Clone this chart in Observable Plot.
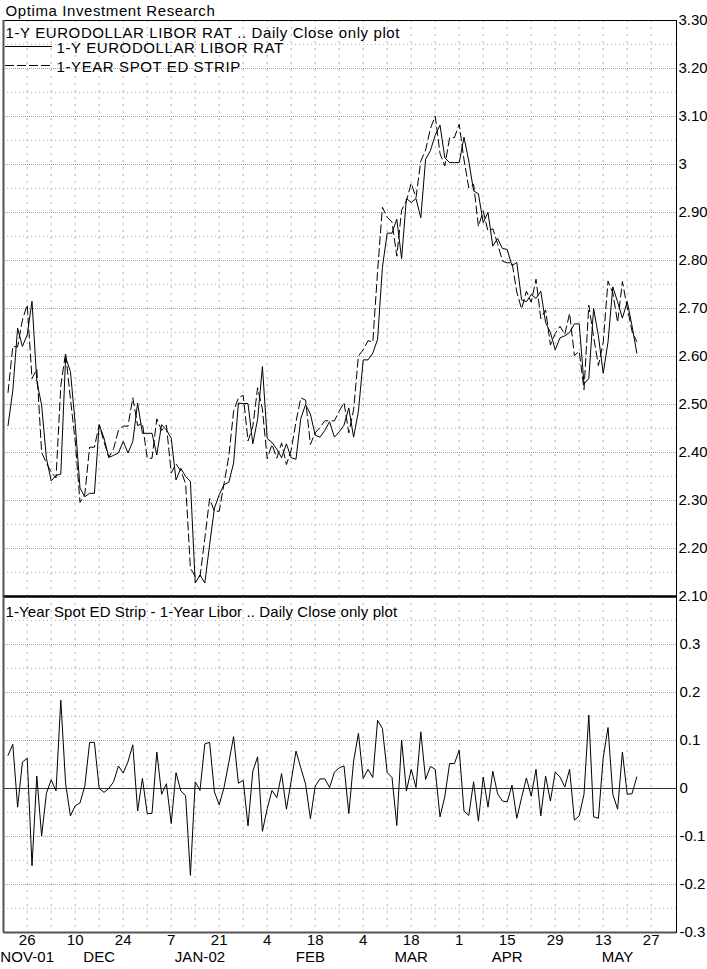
<!DOCTYPE html>
<html><head><meta charset="utf-8">
<script src="https://cdn.jsdelivr.net/npm/d3@7"></script>
<script src="https://cdn.jsdelivr.net/npm/@observablehq/plot@0.6"></script>
<style>
body{margin:0;background:#fff;}
#chart{position:relative;width:707px;height:969px;overflow:hidden;background:#fff;}
#chart svg{position:absolute;left:0;overflow:visible;}
</style></head><body><div id="chart"></div>
<script>
// 1-Y Eurodollar LIBOR rate (solid), daily closes, trading-day index 0 = 20 Nov 2001
const libor = [2.456,2.529,2.659,2.621,2.645,2.715,2.548,2.499,2.388,2.341,
 2.352,2.355,2.598,2.569,2.460,2.326,2.308,2.315,2.315,2.458,
 2.430,2.390,2.394,2.399,2.423,2.399,2.423,2.503,2.440,2.440,
 2.440,2.395,2.458,2.447,2.430,2.343,2.367,2.350,2.340,2.128,
 2.145,2.128,2.208,2.284,2.312,2.333,2.338,2.378,2.503,2.502,
 2.502,2.418,2.469,2.579,2.429,2.421,2.407,2.389,2.418,2.389,
 2.386,2.471,2.500,2.480,2.436,2.432,2.446,2.464,2.432,2.443,
 2.457,2.493,2.432,2.486,2.593,2.593,2.607,2.636,2.786,2.857,
 2.857,2.886,2.804,2.929,2.921,2.929,2.889,3.011,3.029,3.061,
 3.082,3.014,3.004,3.004,3.004,3.057,3.007,2.945,2.939,2.879,
 2.900,2.830,2.846,2.825,2.823,2.789,2.796,2.718,2.714,2.729,
 2.721,2.736,2.671,2.650,2.614,2.639,2.643,2.650,2.668,2.668,
 2.543,2.554,2.700,2.643,2.565,2.630,2.745,2.714,2.680,2.714,
 2.664,2.607];
// 1-Year spot ED strip (dashed)
const strip = [2.525,2.621,2.620,2.676,2.708,2.554,2.574,2.400,2.378,2.359,
 2.347,2.539,2.608,2.512,2.424,2.296,2.313,2.411,2.411,2.458,
 2.422,2.390,2.408,2.446,2.455,2.455,2.514,2.456,2.461,2.388,
 2.388,2.470,2.446,2.457,2.357,2.376,2.362,2.335,2.159,2.142,
 2.141,2.221,2.304,2.277,2.278,2.335,2.392,2.486,2.514,2.519,
 2.424,2.454,2.535,2.490,2.387,2.417,2.388,2.420,2.375,2.405,
 2.464,2.514,2.509,2.417,2.441,2.452,2.466,2.466,2.466,2.486,
 2.504,2.441,2.489,2.601,2.614,2.633,2.630,2.778,2.911,2.890,
 2.880,2.809,2.905,2.924,2.961,2.931,3.007,3.030,3.075,3.101,
 3.023,2.997,3.056,3.056,3.084,3.010,2.951,2.959,2.871,2.903,
 2.861,2.866,2.835,2.799,2.795,2.796,2.734,2.699,2.736,2.713,
 2.761,2.679,2.697,2.624,2.648,2.663,2.646,2.690,2.602,2.611,
 2.531,2.707,2.641,2.581,2.629,2.757,2.733,2.671,2.756,2.702,
 2.653,2.631];
// Spread: 1-Year Spot ED Strip - 1-Year Libor
const spread = [0.069,0.092,-0.039,0.055,0.063,-0.161,0.026,-0.099,-0.010,0.018,
 -0.005,0.184,0.010,-0.057,-0.036,-0.030,0.005,0.096,0.096,0.000,
 -0.008,0.000,0.014,0.047,0.032,0.056,0.091,-0.047,0.021,-0.052,
 -0.052,0.076,-0.012,0.010,-0.073,0.033,-0.005,-0.015,-0.181,0.014,
 -0.004,0.093,0.096,-0.007,-0.034,0.002,0.054,0.108,0.011,0.017,
 -0.078,0.036,0.066,-0.089,-0.042,-0.004,-0.019,0.031,-0.043,0.016,
 0.078,0.043,0.009,-0.063,0.005,0.020,0.020,0.002,0.034,0.043,
 0.047,-0.052,0.057,0.115,0.021,0.040,0.023,0.142,0.125,0.033,
 0.023,-0.077,0.101,-0.005,0.040,0.002,0.118,0.019,0.046,0.040,
 -0.059,-0.017,0.052,0.052,0.080,-0.047,-0.056,0.014,-0.068,0.024,
 -0.039,0.036,-0.011,-0.026,-0.028,0.007,-0.062,-0.019,0.022,-0.016,
 0.040,-0.057,0.026,-0.026,0.034,0.024,0.003,0.040,-0.066,-0.057,
 -0.012,0.153,-0.059,-0.062,0.064,0.127,-0.012,-0.043,0.076,-0.012,
 -0.011,0.024];

// x ticks (trading-day index of every other Monday) and labels
const tickDays = [4,14,24,34,44,54,64,74,84,94,104,114,124,134];
const tickLabels = ["26","10","24","7","21","4","18","4","18","1","15","29","13","27"];
const monthAt = [4,19,40,63,84,104,127];
const monthLabels = ["NOV-01","DEC","JAN-02","FEB","MAR","APR","MAY"];
// y ticks
const topTicks = [2.1,2.2,2.3,2.4,2.5,2.6,2.7,2.8,2.9,3.0,3.1,3.2,3.3];
const topTickLabels = ["2.10","2.20","2.30","2.40","2.50","2.60","2.70","2.80","2.90","3","3.10","3.20","3.30"];
const botTicks = [-0.3,-0.2,-0.1,0,0.1,0.2,0.3,0.4];
const botTickLabels = ["-0.3","-0.2","-0.1","0","0.1","0.2","0.3",""];

const headerTitle = "Optima Investment Research";
const topTitle = "1-Y EURODOLLAR LIBOR RAT .. Daily Close only plot";
const seriesNames = ["1-Y EURODOLLAR LIBOR RAT", "1-YEAR SPOT ED STRIP"];
const bottomTitle = "1-Year Spot ED Strip - 1-Year Libor .. Daily Close only plot";

const rows = libor.map((v, i) => ({i, libor: v, strip: strip[i], spread: spread[i]}));
const weeks = d3.range(-1, 135, 5);
const minorTop = topTicks.slice(0, -1).map(d => d + 0.05);
const minorBot = botTicks.slice(0, -1).map(d => d + 0.05);

const font = "'Liberation Sans', Arial, Helvetica, sans-serif";
const xDomain = [-0.94, 139.27];
const gridMarks = (major, minor) => [
  Plot.ruleY(minor, {stroke: "#b4b4b4", strokeDasharray: "1,3"}),
  Plot.ruleY(major, {stroke: "#a0a0a0", strokeDasharray: "1,1"}),
  Plot.ruleX(weeks, {stroke: "#b4b4b4", strokeDasharray: "2,5"})
];

const legend = (index, scales, values, dims) => {
  const g = d3.create("svg:g");
  const x0 = dims.marginLeft + 2, x1 = dims.marginLeft + 49;
  g.append("line").attr("x1", x0).attr("x2", x1)
    .attr("y1", dims.marginTop + 26.5).attr("y2", dims.marginTop + 26.5)
    .attr("stroke", "black");
  g.append("line").attr("x1", x0).attr("x2", x1)
    .attr("y1", dims.marginTop + 45.5).attr("y2", dims.marginTop + 45.5)
    .attr("stroke", "black").attr("stroke-dasharray", "9,3");
  return g.node();
};

const label = (txt, dx, dy) => Plot.text([txt], {text: d => d, frameAnchor: "top-left", dx, dy,
  lineAnchor: "bottom", textAnchor: "start", fontSize: 15});

const topPlot = Plot.plot({
  width: 707, height: 600,
  marginTop: 20, marginBottom: 4, marginLeft: 3, marginRight: 31,
  style: {fontFamily: font, fontSize: "15px", background: "transparent", overflow: "visible"},
  x: {domain: xDomain, axis: null},
  y: {domain: [2.1, 3.3], axis: "right", ticks: topTicks,
      tickFormat: d => topTickLabels[topTicks.indexOf(d)], tickSize: 0, tickPadding: 2, label: null},
  marks: [
    ...gridMarks(topTicks, minorTop),
    Plot.line(rows, {x: "i", y: "strip", stroke: "black", strokeWidth: 1, strokeDasharray: "8,4"}),
    Plot.line(rows, {x: "i", y: "libor", stroke: "black", strokeWidth: 1}),
    Plot.frame({stroke: "black"}),
    Plot.ruleY([2.1], {stroke: "black", strokeWidth: 2}),
    Plot.ruleX([xDomain[0]], {stroke: "#555", strokeWidth: 2}),
    label(headerTitle, 2, -5),
    label(topTitle, 2, 17),
    label(seriesNames[0], 53, 32),
    label(seriesNames[1], 53, 51),
    legend
  ]
});

const botPlot = Plot.plot({
  width: 707, height: 379,
  marginTop: 6, marginBottom: 37, marginLeft: 3, marginRight: 31,
  style: {fontFamily: font, fontSize: "15px", background: "transparent", overflow: "visible"},
  x: {domain: xDomain, ticks: tickDays, tickFormat: d => tickLabels[tickDays.indexOf(d)], tickSize: 0, tickPadding: 2, label: null},
  y: {domain: [-0.3, 0.4], axis: "right", ticks: botTicks,
      tickFormat: d => botTickLabels[botTicks.indexOf(d)], tickSize: 0, tickPadding: 3, label: null},
  marks: [
    ...gridMarks(botTicks, minorBot),
    Plot.ruleY([0], {stroke: "#333", strokeWidth: 1.2}),
    Plot.line(rows, {x: "i", y: "spread", stroke: "black", strokeWidth: 1}),
    Plot.frame({stroke: "black"}),
    Plot.ruleY([-0.3], {stroke: "#555", strokeWidth: 2}),
    Plot.ruleY([0.4], {stroke: "black", strokeWidth: 2}),
    Plot.ruleX([xDomain[0]], {stroke: "#555", strokeWidth: 2}),
    label(bottomTitle, 2, 20),
    Plot.text(monthLabels, {x: (d, i) => monthAt[i], text: d => d, frameAnchor: "bottom", dy: 29.5, lineAnchor: "bottom", fontSize: 15})
  ]
});

const chart = document.getElementById("chart");
topPlot.style.top = "0px";
botPlot.style.top = "590px";
chart.appendChild(topPlot);
chart.appendChild(botPlot);
// letter spacing to match the reference's wider lettering
d3.select(topPlot).selectAll('g[aria-label="text"] text').style("letter-spacing", "0.6px");
d3.select(botPlot).selectAll('g[aria-label="text"] text').style("letter-spacing", "0.1px");
</script></body></html>
